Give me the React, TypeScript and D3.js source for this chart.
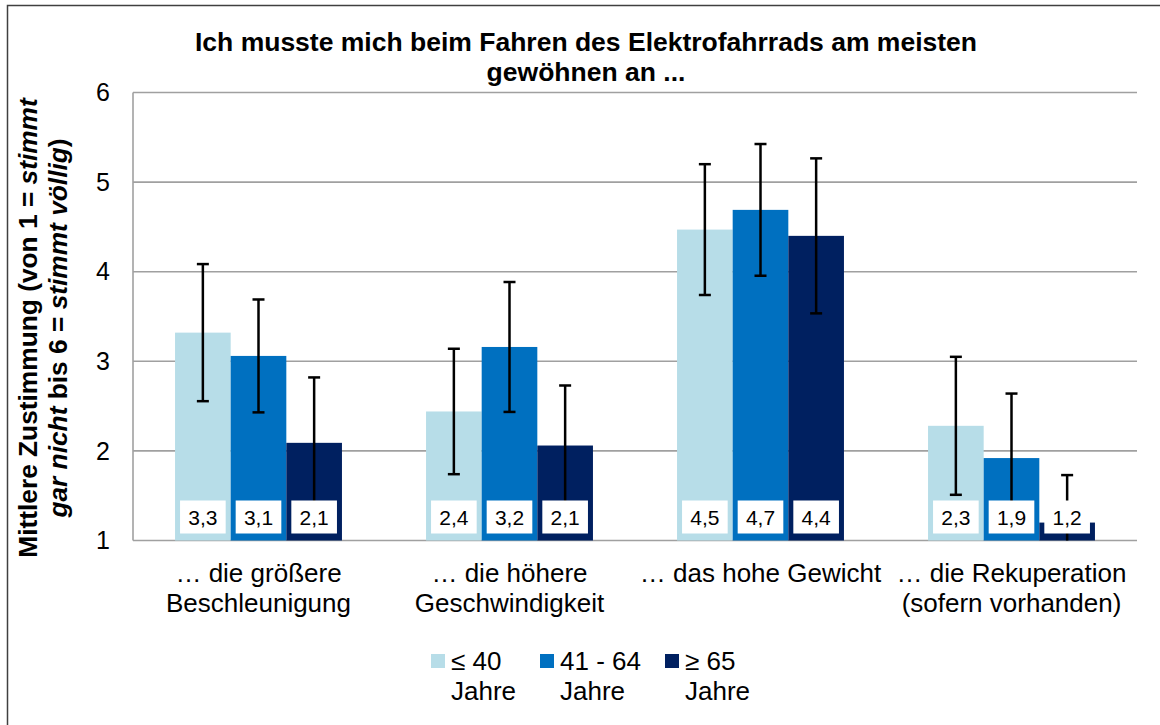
import React from "react";
import * as d3 from "d3";

// ---------- data ----------
const categories = [
  ["… die größere", "Beschleunigung"],
  ["… die höhere", "Geschwindigkeit"],
  ["… das hohe Gewicht"],
  ["… die Rekuperation", "(sofern vorhanden)"],
];
const seriesNames = ["≤ 40 Jahre", "41 - 64 Jahre", "≥ 65 Jahre"];
const seriesLegendLines = [
  ["≤ 40", "Jahre"],
  ["41 - 64", "Jahre"],
  ["≥ 65", "Jahre"],
];
const valuesUnder40 = [3.32, 2.44, 4.47, 2.28];
const values41to64 = [3.06, 3.16, 4.69, 1.92];
const values65plus = [2.09, 2.06, 4.4, 1.2];
const sdUnder40 = [0.765, 0.7, 0.73, 0.77];
const sd41to64 = [0.63, 0.725, 0.735, 0.72];
const sd65plus = [0.73, 0.67, 0.865, 0.53];
const yTicks = [1, 2, 3, 4, 5, 6];
const colors = ["#B7DDE8", "#0070C0", "#002060"];

const FONT = "'Liberation Sans', Arial, Helvetica, sans-serif";

export default function App() {
  const W = 1160;
  const H = 725;
  const left = 133;
  const right = 1137;
  const top = 92.5;
  const bottom = 540.5;

  const allValues = [valuesUnder40, values41to64, values65plus];
  const allSd = [sdUnder40, sd41to64, sd65plus];
  const catKeys = categories.map((_, i) => String(i));

  const x0 = d3
    .scaleBand<string>()
    .domain(catKeys)
    .range([left, right])
    .paddingInner(0.335)
    .paddingOuter(0.1675);
  const x1 = d3
    .scaleBand<string>()
    .domain(seriesNames)
    .range([0, x0.bandwidth()]);
  const y = d3.scaleLinear().domain([1, 6]).range([bottom, top]);

  const fmt = (v: number) => v.toFixed(1).replace(".", ",");
  const gridColor = "#A0A0A0";

  const bars: React.ReactNode[] = [];
  const errs: React.ReactNode[] = [];
  const labels: React.ReactNode[] = [];

  catKeys.forEach((ck, ci) => {
    seriesNames.forEach((sn, si) => {
      const v = allValues[si][ci];
      const sd = allSd[si][ci];
      const bx = (x0(ck) as number) + (x1(sn) as number);
      const bw = x1.bandwidth();
      const cx = bx + bw / 2;
      bars.push(
        <rect
          key={`b${ci}${si}`}
          x={bx}
          y={y(v)}
          width={bw}
          height={y(1) - y(v)}
          fill={colors[si]}
        />
      );
      const hi = v + sd;
      const lo = v - sd;
      const loC = Math.max(lo, 1);
      errs.push(
        <g key={`e${ci}${si}`} stroke="#000" strokeWidth={2.5}>
          <line x1={cx} x2={cx} y1={y(hi)} y2={y(loC)} />
          <line x1={cx - 6} x2={cx + 6} y1={y(hi)} y2={y(hi)} />
          {lo >= 1 && <line x1={cx - 6} x2={cx + 6} y1={y(lo)} y2={y(lo)} />}
        </g>
      );
      labels.push(
        <g key={`l${ci}${si}`}>
          <rect x={bx + 5} y={y(1) - 40} width={bw - 10} height={33} fill="#fff" />
          <text
            x={cx}
            y={y(1) - 16}
            textAnchor="middle"
            fontSize={21}
            fontFamily={FONT}
            fill="#000"
          >
            {fmt(v)}
          </text>
        </g>
      );
    });
  });

  const legendX = [431, 540, 665];

  return (
    <svg
      width={W}
      height={H}
      style={{ position: "absolute", left: 0, top: 0, background: "#fff" }}
    >
      <rect x={0} y={0} width={W} height={H} fill="#fff" />
      {/* outer chart border */}
      <path d={`M7.5,${H} V5.5 H${W}`} fill="none" stroke="#404040" strokeWidth={1.5} />

      {/* title */}
      <text
        x={586}
        textAnchor="middle"
        fontFamily={FONT}
        fontWeight="bold"
        fontSize={26.5}
        fill="#000"
      >
        <tspan x={586} y={51}>
          Ich musste mich beim Fahren des Elektrofahrrads am meisten
        </tspan>
        <tspan x={586} y={81}>
          gewöhnen an ...
        </tspan>
      </text>

      {/* gridlines */}
      {yTicks.map((t) => (
        <line
          key={`g${t}`}
          x1={left}
          x2={right}
          y1={y(t)}
          y2={y(t)}
          stroke={gridColor}
          strokeWidth={1.6}
        />
      ))}
      <line x1={left} x2={left} y1={y(6)} y2={y(1)} stroke={gridColor} strokeWidth={1.6} />

      {/* y tick labels */}
      {yTicks.map((t) => (
        <text
          key={`t${t}`}
          x={110}
          y={y(t)}
          dy="0.35em"
          textAnchor="end"
          fontFamily={FONT}
          fontSize={25}
          fill="#000"
        >
          {t}
        </text>
      ))}

      {/* y axis title */}
      <g transform={`translate(0, 328) rotate(-90)`}>
        <text
          textAnchor="middle"
          fontFamily={FONT}
          fontWeight="bold"
          fontSize={26.3}
          fill="#000"
        >
          <tspan x={0} y={37}>
            Mittlere Zustimmung (von 1 = <tspan fontStyle="italic">stimmt</tspan>
          </tspan>
          <tspan x={0} y={67}>
            <tspan fontStyle="italic">gar nicht</tspan> bis 6 ={" "}
            <tspan fontStyle="italic">stimmt völlig</tspan>)
          </tspan>
        </text>
      </g>

      {bars}
      {errs}
      {labels}

      {/* category labels */}
      {categories.map((lines, ci) => {
        const cx = (x0(String(ci)) as number) + x0.bandwidth() / 2;
        return (
          <text
            key={`c${ci}`}
            textAnchor="middle"
            fontFamily={FONT}
            fontSize={26}
            fill="#000"
          >
            {lines.map((ln, li) => (
              <tspan key={li} x={cx} y={582 + li * 30}>
                {ln}
              </tspan>
            ))}
          </text>
        );
      })}

      {/* legend */}
      {seriesLegendLines.map((lines, si) => (
        <g key={`lg${si}`}>
          <rect x={legendX[si]} y={654} width={14} height={14} fill={colors[si]} />
          <text fontFamily={FONT} fontSize={26} fill="#000">
            {lines.map((ln, li) => (
              <tspan key={li} x={legendX[si] + 20} y={670 + li * 30}>
                {ln}
              </tspan>
            ))}
          </text>
        </g>
      ))}
    </svg>
  );
}
